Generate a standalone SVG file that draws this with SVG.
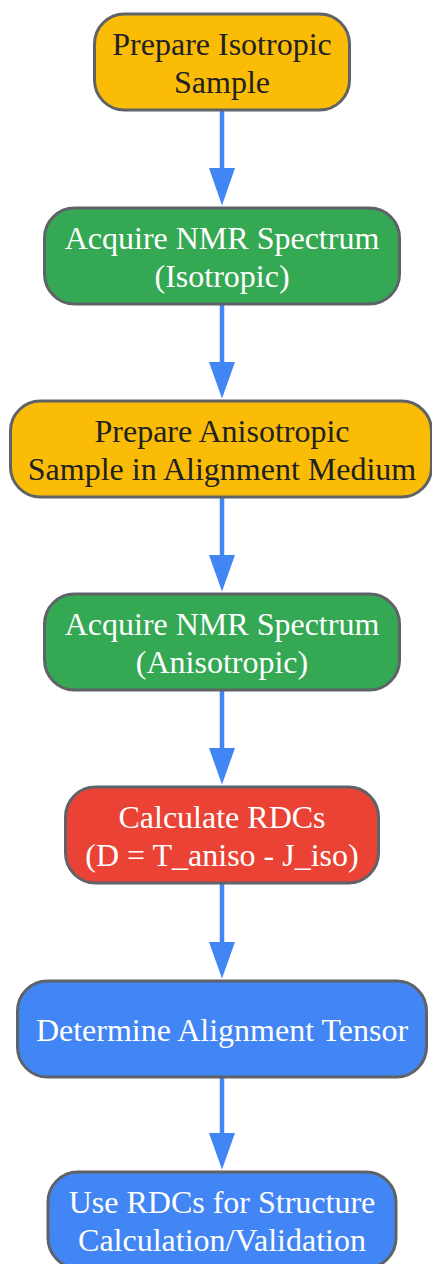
<svg xmlns="http://www.w3.org/2000/svg" width="432" height="1264" viewBox="0 0 432 1264">
<style>
.n{stroke:#5f6368;stroke-width:3}
.y{fill:#FBBC05}.g{fill:#34A853}.r{fill:#EA4335}.b{fill:#4285F4}
text{font-family:"Liberation Serif","Times New Roman",serif;font-size:32px;text-anchor:middle}
.dk{fill:#202124}.wt{fill:#ffffff}
.e line{stroke:#4285F4;stroke-width:4.5}
.e polygon{fill:#4285F4}
</style>
<rect width="432" height="1264" fill="#ffffff"/>
<g id="connectors" class="e">
<line x1="222" y1="111" x2="222" y2="170"/><polygon points="209,168 235,168 222,205.5"/>
<line x1="222" y1="305" x2="222" y2="364"/><polygon points="209,362 235,362 222,398.5"/>
<line x1="222" y1="498" x2="222" y2="557"/><polygon points="209,555 235,555 222,591.5"/>
<line x1="222" y1="691" x2="222" y2="750"/><polygon points="209,748 235,748 222,784.5"/>
<line x1="222" y1="884" x2="222" y2="944"/><polygon points="209,942 235,942 222,978.5"/>
<line x1="222" y1="1078" x2="222" y2="1135"/><polygon points="209,1133 235,1133 222,1169.5"/>
</g>
<g id="n1"><rect class="n y" x="94.5" y="14" width="255" height="96" rx="30"/><text class="dk" x="222" y="55">Prepare Isotropic</text><text class="dk" x="222" y="93">Sample</text></g>
<g id="n2"><rect class="n g" x="44.5" y="208" width="355" height="96" rx="30"/><text class="wt" x="222" y="249">Acquire NMR Spectrum</text><text class="wt" x="222" y="287">(Isotropic)</text></g>
<g id="n3"><rect class="n y" x="10.5" y="401" width="421" height="96" rx="30"/><text class="dk" x="222" y="442">Prepare Anisotropic</text><text class="dk" x="222" y="480">Sample in Alignment Medium</text></g>
<g id="n4"><rect class="n g" x="44.5" y="594" width="355" height="96" rx="30"/><text class="wt" x="222" y="635">Acquire NMR Spectrum</text><text class="wt" x="222" y="673">(Anisotropic)</text></g>
<g id="n5"><rect class="n r" x="65.5" y="787" width="313" height="96" rx="30"/><text class="wt" x="222" y="828">Calculate RDCs</text><text class="wt" x="222" y="866">(D = T_aniso - J_iso)</text></g>
<g id="n6"><rect class="n b" x="17.5" y="981" width="409" height="96" rx="30"/><text class="wt" x="222" y="1040.5">Determine Alignment Tensor</text></g>
<g id="n7"><rect class="n b" x="48" y="1172" width="348" height="96" rx="30"/><text class="wt" x="222" y="1213">Use RDCs for Structure</text><text class="wt" x="222" y="1251">Calculation/Validation</text></g>
</svg>
